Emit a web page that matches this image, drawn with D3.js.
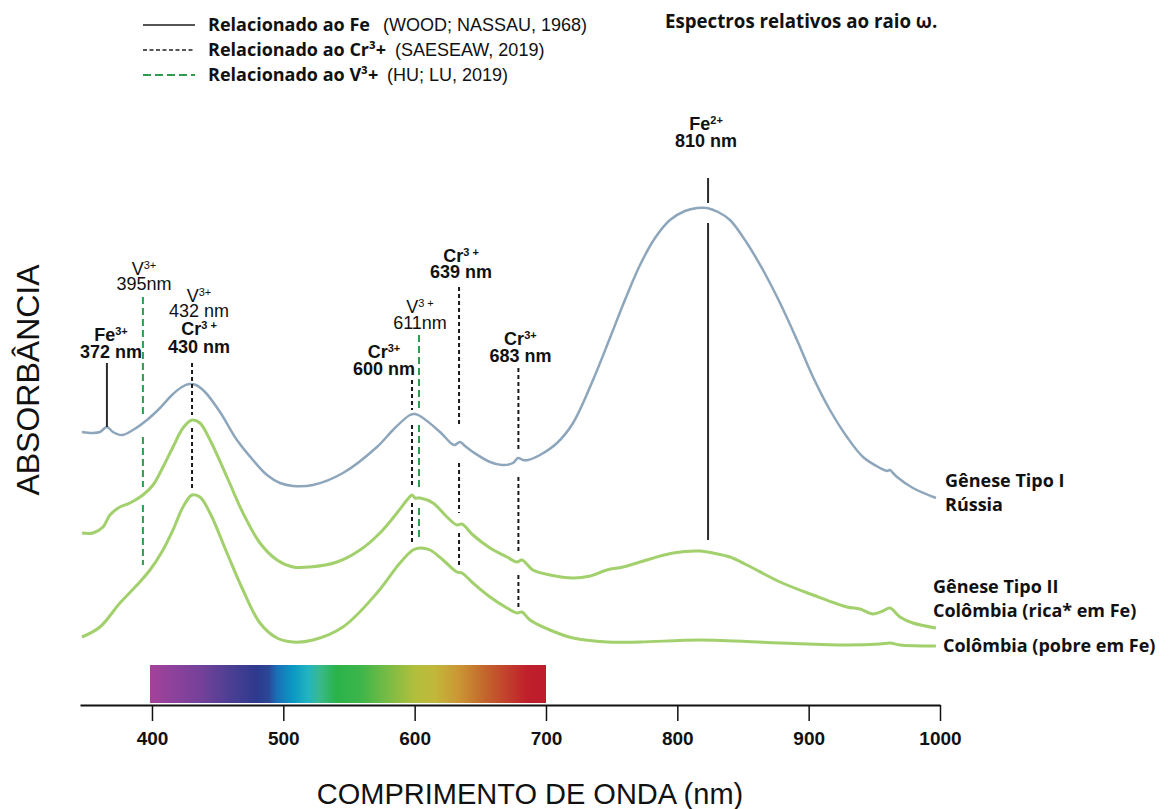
<!DOCTYPE html>
<html><head><meta charset="utf-8">
<script src="https://cdn.jsdelivr.net/npm/d3@7"></script>
<style>body{margin:0;background:#fff}</style>
</head><body>
<svg id="c" width="1169" height="809"></svg>
<script>
// ---------- DATA ----------
const wavelengthTicks = [400, 500, 600, 700, 800, 900, 1000];
const seriesNames = ["Gênese Tipo I Rússia", "Gênese Tipo II Colômbia (rica* em Fe)", "Colômbia (pobre em Fe)"];
// [wavelength nm, relative absorbance]
const russia = [[346.7,2.73],[355.1,2.72],[360.4,2.73],[365.7,2.78],[370.3,2.73],[377.2,2.70],[385.5,2.75],[396.2,2.85],[406.1,2.97],[415.2,3.10],[422.8,3.18],[428.2,3.21],[433.5,3.20],[440.4,3.13],[451.8,2.93],[464.7,2.65],[476.9,2.45],[487.6,2.30],[497.5,2.22],[507.4,2.19],[522.6,2.20],[545.4,2.32],[571.3,2.58],[583.5,2.75],[596.4,2.90],[600.3,2.91],[604.1,2.89],[619.3,2.73],[628.4,2.61],[630.7,2.60],[634.5,2.63],[638.3,2.59],[644.4,2.53],[657.4,2.43],[666.5,2.40],[674.9,2.42],[678.7,2.47],[682.5,2.45],[686.3,2.45],[695.4,2.50],[708.4,2.62],[720.6,2.82],[735.8,3.25],[748.7,3.67],[760.1,4.05],[771.6,4.40],[783.0,4.67],[794.4,4.85],[805.8,4.94],[815.0,4.97],[822.6,4.97],[831.0,4.93],[840.1,4.85],[853.0,4.62],[865.2,4.35],[878.2,4.02],[891.1,3.65],[903.3,3.28],[916.2,2.95],[929.2,2.68],[941.4,2.48],[954.3,2.37],[959.6,2.34],[961.9,2.35],[964.2,2.32],[967.3,2.28],[979.4,2.17],[996.9,2.07]];
const colombiaRica = [[346.7,1.72],[355.1,1.72],[362.7,1.78],[368.0,1.90],[375.6,1.98],[383.2,2.02],[393.1,2.10],[400.8,2.20],[408.4,2.38],[416.0,2.58],[423.6,2.77],[430.5,2.85],[436.5,2.82],[444.2,2.65],[457.1,2.28],[469.3,1.92],[482.2,1.62],[495.2,1.45],[507.4,1.38],[520.3,1.38],[540.9,1.43],[558.4,1.55],[573.6,1.72],[586.5,1.92],[594.2,2.05],[598.0,2.10],[600.3,2.07],[604.1,2.07],[614.0,2.02],[624.6,1.88],[632.2,1.80],[636.0,1.81],[644.4,1.70],[657.4,1.57],[670.3,1.48],[677.9,1.43],[681.7,1.45],[690.1,1.35],[703.0,1.30],[720.6,1.27],[733.5,1.29],[746.4,1.35],[758.6,1.38],[771.6,1.43],[796.7,1.52],[817.3,1.54],[827.2,1.52],[840.1,1.48],[853.0,1.40],[878.2,1.23],[903.3,1.10],[929.2,0.98],[939.1,0.96],[949.0,0.91],[956.6,0.94],[961.9,0.97],[969.5,0.88],[979.4,0.82],[996.9,0.77]];
const colombiaPobre = [[346.7,0.68],[360.4,0.78],[375.6,1.02],[388.6,1.20],[398.5,1.35],[408.4,1.55],[416.0,1.75],[423.6,1.98],[430.5,2.10],[436.5,2.08],[444.2,1.92],[457.1,1.52],[469.3,1.15],[482.2,0.82],[495.2,0.67],[507.4,0.63],[522.6,0.65],[545.4,0.78],[571.3,1.12],[588.8,1.42],[598.7,1.55],[604.1,1.57],[611.7,1.55],[621.6,1.45],[632.2,1.33],[636.0,1.32],[644.4,1.22],[657.4,1.08],[670.3,0.97],[677.9,0.92],[681.7,0.93],[687.8,0.85],[703.0,0.75],[720.6,0.67],[746.4,0.63],[771.6,0.63],[817.3,0.65],[878.2,0.62],[929.2,0.60],[954.3,0.61],[961.9,0.62],[969.5,0.60],[996.9,0.59]];

// absorption marker lines: wavelength where drawn, kind, segments [from, to] in absorbance units
const markerWl = [365.7, 393.1, 430.5, 598.0, 603.3, 633.8, 679.0, 823.4];
const markerKind = ["Fe", "V", "Cr", "Cr", "V", "Cr", "Cr", "Fe"];
const markerSegments = [
  [[3.42, 2.78]],
  [[4.08, 2.88], [2.68, 2.18], [2.00, 1.40]],
  [[3.42, 2.90], [2.77, 2.15]],
  [[3.25, 2.95], [2.80, 2.17], [2.02, 1.63]],
  [[3.70, 2.97], [2.80, 2.17], [1.97, 1.65]],
  [[4.18, 2.80], [2.42, 1.92], [1.72, 1.40]],
  [[3.37, 2.55], [2.28, 1.52], [1.30, 0.98]],
  [[5.27, 5.02], [4.82, 1.65]]
];
// marker label lines: [text, superscript, bold]
const markerLabels = [
  [["Fe", "3+", true], ["372 nm", "", true]],
  [["V", "3+", false], ["395nm", "", false]],
  [["V", "3+", false], ["432 nm", "", false], ["Cr", "3 +", true], ["430 nm", "", true]],
  [["Cr", "3+", true], ["600 nm", "", true]],
  [["V", "3 +", false], ["611nm", "", false]],
  [["Cr", "3 +", true], ["639 nm", "", true]],
  [["Cr", "3+", true], ["683 nm", "", true]],
  [["Fe", "2+", true], ["810 nm", "", true]]
];
const legendTitles = ["Relacionado ao Fe", "Relacionado ao Cr³+", "Relacionado ao V³+"];
const legendRefs = ["(WOOD; NASSAU, 1968)", "(SAESEAW, 2019)", "(HU; LU, 2019)"];
const spectrumRange = [400, 700];
const spectrumColors = ["#a3429b","#74419a","#4d3f93","#2e3a8e","#2b4796","#1a6fb6","#0b97c3","#22b5c0","#39b98a","#2ab34b","#3cb54a","#78bb44","#b2bf3c","#c2b73a","#cb9634","#c2632c","#c2412c","#c0202b","#bd1d2c"];
const spectrumStops = [0,0.13,0.2,0.27,0.3,0.32,0.36,0.4,0.43,0.47,0.53,0.6,0.67,0.72,0.78,0.85,0.9,0.95,1];

// ---------- LAYOUT ----------
const svg = d3.select("#c");
const x = d3.scaleLinear().domain([345.2, 1000]).range([80, 940]);
const y = d3.scaleLinear().domain([0, 5]).range([705, 205]);
const sans = "'Liberation Sans', Arial, sans-serif";
const bold = "'Open Sans', 'Noto Sans', sans-serif";

// spectrum gradient
const defs = svg.append("defs");
const grad = defs.append("linearGradient").attr("id", "spec").attr("x1", "0%").attr("x2", "100%");
spectrumStops.forEach((s, i) => grad.append("stop").attr("offset", s).attr("stop-color", spectrumColors[i]));
svg.append("rect")
  .attr("x", x(spectrumRange[0]) - 2).attr("width", x(spectrumRange[1]) - x(spectrumRange[0]) + 2)
  .attr("y", y(0) - 40).attr("height", 38).attr("fill", "url(#spec)");

// axis
const ax = svg.append("g").attr("transform", `translate(0,${y(0)})`)
  .call(d3.axisBottom(x).tickValues(wavelengthTicks).tickSize(16).tickSizeOuter(0).tickFormat(d3.format("d")));
ax.select(".domain").attr("stroke", "#111").attr("stroke-width", 2);
ax.selectAll(".tick line").attr("stroke", "#111").attr("stroke-width", 1.5);
ax.selectAll(".tick text").attr("y", 40).attr("dy", 0)
  .attr("font-family", "'Liberation Sans Narrow', 'Liberation Sans', sans-serif").attr("font-weight", "bold")
  .attr("font-size", 19).attr("fill", "#111");

// curves
const line = d3.line().x(d => x(d[0])).y(d => y(d[1])).curve(d3.curveCatmullRom.alpha(0.5));
const seriesData = [russia, colombiaRica, colombiaPobre];
const seriesColor = ["#8ea6bc", "#a2d06c", "#a2d06c"];
const seriesWidth = [2.5, 3, 3];
seriesData.forEach((s, i) => svg.append("path").datum(s).attr("d", line)
  .attr("fill", "none").attr("stroke", seriesColor[i]).attr("stroke-width", seriesWidth[i]).attr("stroke-linejoin", "round"));

// markers
const kindStyle = {
  Fe: { stroke: "#2b2b2b", dash: null, w: 2 },
  Cr: { stroke: "#1a1a1a", dash: "4,3", w: 2 },
  V: { stroke: "#2e9b4e", dash: "7,4", w: 2 }
};
markerWl.forEach((wl, i) => {
  const st = kindStyle[markerKind[i]];
  markerSegments[i].forEach(seg => {
    svg.append("line").attr("x1", x(wl)).attr("x2", x(wl)).attr("y1", y(seg[0])).attr("y2", y(seg[1]))
      .attr("stroke", st.stroke).attr("stroke-width", st.w).attr("stroke-dasharray", st.dash);
  });
});

// marker labels (pixel offsets from marker line, baselines) — one text block per marker
const labelLayout = [
  { dx: 4, ys: [341, 358] },
  { dx: 1, ys: [275, 290] },
  { dx: 7, ys: [302, 317, 335, 353] },
  { dx: -28, ys: [358, 375] },
  { dx: 1, ys: [313, 329] },
  { dx: 2, ys: [262, 278] },
  { dx: 2, ys: [345, 362] },
  { dx: -2, ys: [130, 147] }
];
markerLabels.forEach((lines, i) => {
  const cx = x(markerWl[i]) + labelLayout[i].dx;
  const t = svg.append("text").attr("text-anchor", "middle").attr("font-family", sans)
    .attr("font-size", 18).attr("fill", "#111");
  lines.forEach((ln, j) => {
    const row = t.append("tspan").attr("x", cx).attr("y", labelLayout[i].ys[j])
      .attr("font-weight", ln[2] ? "bold" : "normal");
    row.append("tspan").text(ln[0]);
    if (ln[1]) row.append("tspan").attr("font-size", 11).attr("baseline-shift", "super").text(ln[1]);
  });
});

// legend
const legendY = [25, 50, 75];
const legendRefX = [383, 395, 387];
const legendStyles = [kindStyle.Fe, { stroke: "#222", dash: "4,2.5", w: 1.5 }, { stroke: "#2e9b4e", dash: "8,4", w: 2 }];
legendTitles.forEach((t, i) => {
  const st = legendStyles[i];
  svg.append("line").attr("x1", 143).attr("x2", 195).attr("y1", legendY[i]).attr("y2", legendY[i])
    .attr("stroke", i === 0 ? "#555" : st.stroke).attr("stroke-width", st.w).attr("stroke-dasharray", st.dash);
  svg.append("text").attr("x", 208).attr("y", legendY[i] + 6).attr("fill", "#111")
    .attr("font-family", bold).attr("font-weight", "bold").attr("font-size", 18).text(t);
  svg.append("text").attr("x", legendRefX[i]).attr("y", legendY[i] + 6).attr("fill", "#111")
    .attr("font-family", sans).attr("font-size", 18).text(legendRefs[i]);
});

// title
svg.append("text").attr("x", 665).attr("y", 28).attr("font-family", bold).attr("font-weight", "bold")
  .attr("font-size", 18.7).attr("fill", "#111").text("Espectros relativos ao raio ω.");

// series labels
const seriesLabelLines = [["Gênese Tipo I", "Rússia"], ["Gênese Tipo II", "Colômbia (rica* em Fe)"], ["Colômbia (pobre em Fe)"]];
const seriesLabelPos = [{ x: 945, ys: [487, 511] }, { x: 933, ys: [593, 617] }, { x: 943, ys: [652] }];
seriesLabelLines.forEach((ls, i) => ls.forEach((t, j) =>
  svg.append("text").attr("x", seriesLabelPos[i].x).attr("y", seriesLabelPos[i].ys[j])
    .attr("font-family", bold).attr("font-weight", "bold").attr("font-size", 18).attr("fill", "#111").text(t)));

// axis titles
svg.append("text").attr("transform", "translate(39,380) rotate(-90)").attr("text-anchor", "middle")
  .attr("font-family", sans).attr("font-size", 32).attr("fill", "#111").text("ABSORBÂNCIA");
svg.append("text").attr("x", 530).attr("y", 804).attr("text-anchor", "middle")
  .attr("font-family", sans).attr("font-size", 29).attr("fill", "#111").text("COMPRIMENTO DE ONDA (nm)");
</script>
</body></html>
